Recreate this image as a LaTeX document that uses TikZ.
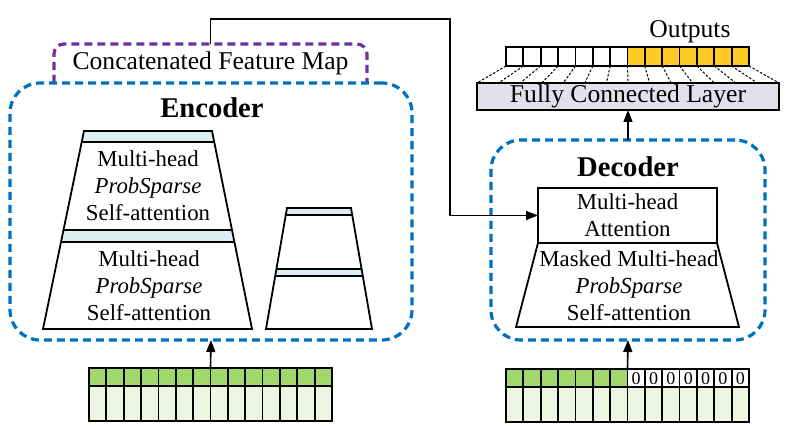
\documentclass[tikz,border=0pt]{standalone}
\usepackage{fontspec}
\setmainfont{Liberation Serif}
\usetikzlibrary{arrows.meta}
\definecolor{encblue}{HTML}{0070C0}
\definecolor{cfmpurple}{HTML}{7030A0}
\definecolor{bandblue}{HTML}{DAEEF3}
\definecolor{gtop}{HTML}{A0D86C}
\definecolor{gbot}{HTML}{EEF6E2}
\definecolor{outyellow}{HTML}{FFC926}
\definecolor{fclav}{HTML}{E4DFEC}
\begin{document}
\begin{tikzpicture}[x=0.5pt,y=-0.5pt,
  blk/.style={draw=black,line width=0.9pt,line join=miter},
  cell/.style={draw=black,line width=0.9pt},
  bluebox/.style={draw=encblue,line width=1.6pt,dash pattern=on 4pt off 2.5pt,rounded corners=15pt,inner sep=0pt,outer sep=0pt},
  purplebox/.style={draw=cfmpurple,line width=1.6pt,dash pattern=on 4pt off 2.5pt,rounded corners=5pt},
  arr/.style={-{Triangle[length=6pt,width=4.5pt]},line width=0.8pt},
  fan/.style={line width=0.5pt,dash pattern=on 1.2pt off 0.9pt},
  lbl/.style={font=\fontsize{12.8}{14}\selectfont,inner sep=0pt},
  ttext/.style={font=\fontsize{11.4}{13.6}\selectfont,align=center,inner sep=0pt},
  ttl/.style={font=\fontsize{14.3}{16}\selectfont\bfseries,inner sep=0pt}]
\useasboundingbox (0,0) rectangle (787,426);

% Concatenated feature map (open bottom)
\node[lbl,minimum width=156.5pt,minimum height=19.5pt,outer sep=0pt] (cfm) at (210.5,63.5) {Concatenated Feature Map};
\draw[purplebox] (cfm.south west) -- (cfm.north west) -- (cfm.north east) -- (cfm.south east);

% Encoder box
\node[bluebox,minimum width=201pt,minimum height=128.5pt] (enc) at (211,211.5) {};
\node[ttl] (enctitle) at (212,108) {Encoder};

% Left encoder stack
\fill[bandblue] (84,131) -- (212,131) -- (214.2,142) -- (81.7,142) -- cycle;
\fill[bandblue] (63.5,230) -- (232,230) -- (234.4,242) -- (61,242) -- cycle;
\draw[blk] (84,131) -- (212,131) -- (252,329) -- (43,329) -- cycle;
\draw[blk] (81.7,142) -- (214.2,142);
\draw[blk] (63.5,230) -- (232,230);
\draw[blk] (61,242) -- (234.4,242);
\node[ttext] (sa1) at (148,186) {Multi-head\\\textit{ProbSparse}\\Self-attention};
\node[ttext] (sa2) at (149,286) {Multi-head\\\textit{ProbSparse}\\Self-attention};

% Right small encoder stack
\fill[bandblue] (287,208) -- (351,208) -- (352.2,215) -- (285.8,215) -- cycle;
\fill[bandblue] (276.4,269) -- (361.6,269) -- (362.8,276) -- (275.2,276) -- cycle;
\draw[blk] (287,208) -- (351,208) -- (372,329) -- (266,329) -- cycle;
\draw[blk] (285.8,215) -- (352.2,215);
\draw[blk] (276.4,269) -- (361.6,269);
\draw[blk] (275.2,276) -- (362.8,276);

% Encoder input grid
\node[minimum width=121.5pt,minimum height=26.5pt,inner sep=0pt,outer sep=0pt] (encin) at (210.5,394.5) {};
\fill[gtop] (89,368) rectangle (332,386);
\fill[gbot] (89,386) rectangle (332,421);
\foreach \i in {1,...,13} \draw[cell] ({89+\i*243/14},368) -- ({89+\i*243/14},421);
\draw[cell] (89,386) -- (332,386);
\draw[cell] (89,368) rectangle (332,421);

% Decoder box
\node[bluebox,minimum width=137pt,minimum height=100pt] (dec) at (628,240) {};
\node[ttl] (dectitle) at (628,167) {Decoder};
\draw[blk] (538,243) -- (717,243) -- (739,327) -- (516,327) -- cycle;
\node[blk,ttext,minimum width=89.5pt,minimum height=27.5pt,outer sep=0pt] (mha) at (627.5,215.5) {Multi-head\\Attention};
\node[ttext] (mmsa) at (629,286) {Masked Multi-head\\\textit{ProbSparse}\\Self-attention};

% Decoder input grid
\node[minimum width=121.5pt,minimum height=26.5pt,inner sep=0pt,outer sep=0pt] (decin) at (627.5,395.5) {};
\fill[gtop] (506,369) rectangle ({506+7*243/14},387);
\fill[gbot] (506,387) rectangle (749,422);
\foreach \i in {1,...,13} \draw[cell] ({506+\i*243/14},369) -- ({506+\i*243/14},422);
\foreach \i in {7,...,13} \node[font=\fontsize{9}{10}\selectfont,inner sep=0pt] (z\i) at ({506+(\i+0.5)*243/14},378.5) {0};
\draw[cell] (506,387) -- (749,387);
\draw[cell] (506,369) rectangle (749,422);

% Fully connected layer and outputs
\node[blk,lbl,fill=fclav,minimum width=151pt,minimum height=13.5pt,outer sep=0pt] (fc) at (628,96.5) {Fully Connected Layer};
\node[minimum width=121.5pt,minimum height=9.5pt,inner sep=0pt,outer sep=0pt] (outg) at (627.5,56.5) {};
\fill[outyellow] ({506+7*243/14},47) rectangle (749,66);
\foreach \i in {1,...,13} \draw[cell] ({506+\i*243/14},47) -- ({506+\i*243/14},66);
\draw[cell] (506,47) rectangle (749,66);
\foreach \i in {0,...,14} \draw[fan] ({506+\i*243/14},66) -- ({477+\i*302/14},83);
\node[lbl] (outlbl) at (690,32) {Outputs};

% Connectors
\coordinate (turn) at (450,19);
\draw[arr] (cfm.north) |- (turn) |- (mha.west);
\draw[arr] (encin.north) -- (enc.south);
\draw[arr] (decin.north) -- (dec.south);
\draw[arr] (dec.north) -- (fc.south);
\end{tikzpicture}
\end{document}
